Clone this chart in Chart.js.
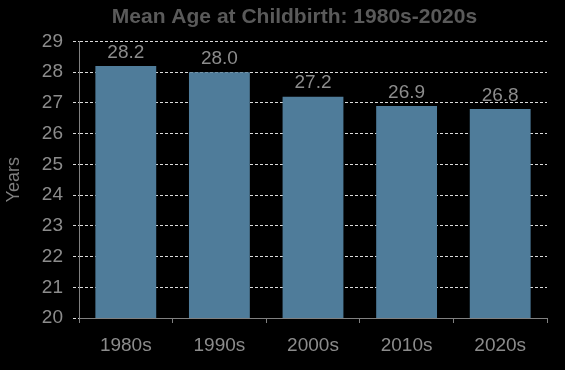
<!DOCTYPE html>
<html>
<head>
<meta charset="utf-8">
<script src="https://cdn.jsdelivr.net/npm/chart.js@4/dist/chart.umd.min.js"></script>
<style>
  html, body { margin: 0; padding: 0; background: #000; }
  #wrap { width: 565px; height: 370px; }
</style>
</head>
<body>
<div id="wrap"><canvas id="c" width="565" height="370"></canvas></div>
<script>
const categories = ["1980s", "1990s", "2000s", "2010s", "2020s"];
const meanAge = [28.2, 28.0, 27.2, 26.9, 26.8];
const valueLabels = ["28.2", "28.0", "27.2", "26.9", "26.8"];
const yTicks = [20, 21, 22, 23, 24, 25, 26, 27, 28, 29];
const chartTitle = 'Mean Age at Childbirth: 1980s-2020s';

const FONT = "'Liberation Sans', Arial, sans-serif";

const labelPlugin = {
  id: 'valueLabels',
  afterDatasetsDraw(chart) {
    const ctx = chart.ctx;
    const meta = chart.getDatasetMeta(0);
    ctx.save();
    ctx.fillStyle = '#8c8c8c';
    ctx.font = '19px ' + FONT;
    ctx.textAlign = 'center';
    ctx.textBaseline = 'bottom';
    meta.data.forEach((bar, i) => {
      ctx.fillText(valueLabels[i], bar.x, bar.y - 4);
    });
    ctx.restore();
  }
};

const titlePlugin = {
  id: 'shiftedTitle',
  afterDraw(chart) {
    const ctx = chart.ctx;
    ctx.save();
    ctx.fillStyle = '#5a5a5a';
    ctx.font = 'bold 21px ' + FONT;
    ctx.textAlign = 'center';
    ctx.textBaseline = 'middle';
    ctx.fillText(chartTitle, chart.width / 2 + 12, 17);
    ctx.restore();
  }
};

new Chart(document.getElementById('c'), {
  type: 'bar',
  data: {
    labels: categories,
    datasets: [{
      data: meanAge,
      backgroundColor: '#4f7c9a',
      borderWidth: 0,
      categoryPercentage: 0.65,
      barPercentage: 1.0
    }]
  },
  options: {
    responsive: false,
    animation: false,
    devicePixelRatio: 1,
    layout: { padding: { left: 0, right: 18, top: 0, bottom: 0 } },
    plugins: {
      legend: { display: false },
      tooltip: { enabled: false },
      title: {
        display: true,
        text: chartTitle,
        color: 'rgba(0,0,0,0)',
        font: { family: FONT, size: 22, weight: 'bold' },
        padding: { top: 4, bottom: 11 }
      }
    },
    scales: {
      x: {
        ticks: {
          color: '#8c8c8c',
          font: { family: FONT, size: 19 },
          padding: 11
        },
        grid: {
          display: true,
          drawOnChartArea: false,
          drawTicks: true,
          tickLength: 5,
          color: '#808080',
          offset: true
        },
        border: { display: true, color: '#808080', width: 1 },
        afterFit(scale) { scale.height = 52; }
      },
      y: {
        min: 20,
        max: 29,
        afterBuildTicks(scale) { scale.ticks = yTicks.map(v => ({ value: v })); },
        ticks: {
          color: '#8c8c8c',
          font: { family: FONT, size: 19 },
          padding: 10
        },
        grid: {
          color: '#dcdcdc',
          lineWidth: 1,
          tickLength: 6,
          tickColor: '#dcdcdc',
          tickBorderDash: [3, 2]
        },
        border: { display: true, color: '#808080', width: 1, dash: [3, 2] },
        title: {
          display: true,
          text: 'Years',
          color: '#7f7f7f',
          font: { family: FONT, size: 18 },
          padding: { top: 3, bottom: 0 }
        },
        afterFit(scale) { scale.width = 79; }
      }
    }
  },
  plugins: [labelPlugin, titlePlugin]
});
</script>
</body>
</html>
